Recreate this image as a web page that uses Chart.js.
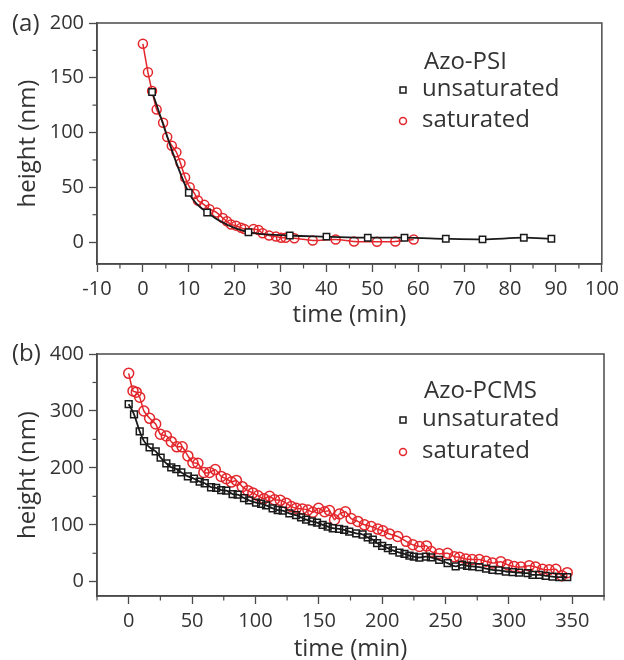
<!DOCTYPE html>
<html><head><meta charset="utf-8">
<script src="https://cdn.jsdelivr.net/npm/chart.js@4"></script>
<style>
html,body{margin:0;padding:0;background:#fff;}
#wrap{position:relative;width:624px;height:660px;overflow:hidden;}
canvas{position:absolute;left:0;}
#ca{top:0;} #cb{top:330px;}
</style></head><body>
<div id="wrap"><canvas id="ca" width="624" height="330"></canvas><canvas id="cb" width="624" height="330"></canvas></div>
<script>
const FONT = "'Open Sans', 'Noto Sans', sans-serif";
const TEXT = '#333333';
const AXIS = '#4a4a4a';
const BLACK = '#1a1a1a';
const RED = '#e3262b';

// ---------- Panel (a): Azo-PSI ----------
const aPanelLabel = '(a)';
const aLegendTitle = 'Azo-PSI';
const aUnsatTime = [2, 10, 14, 23, 32, 40, 49, 57, 66, 74, 83, 89];
const aUnsatHeight = [137, 45, 27, 9, 6, 5, 4, 4, 3, 2.5, 4, 3];
const aSatTime = [0, 1.1, 2, 3, 4.4, 5.3, 6.3, 7.3, 8.2, 9.2, 10.2, 11.3, 12, 13.4, 14.5, 16.1, 17.4, 18.3, 19.2, 20.3, 21.4, 22.1, 24.1, 25.2, 26.1, 27.5, 29, 30.1, 31.1, 33, 37, 42, 46, 51, 55, 59];
const aSatHeight = [181, 155, 138, 121, 109, 96, 88, 82, 72, 59, 50, 44, 38, 34, 30, 27, 22, 19, 16, 15, 13, 12, 12, 11, 8, 6, 5, 4, 4, 3.5, 1.5, 2.4, 0.6, 0.3, 0.6, 2.4];
const aXTicks = [-10, 0, 10, 20, 30, 40, 50, 60, 70, 80, 90, 100];
const aYTicks = [0, 50, 100, 150, 200];

// ---------- Panel (b): Azo-PCMS ----------
const bPanelLabel = '(b)';
const bLegendTitle = 'Azo-PCMS';
const bUnsatTime = [0, 4.2, 8.7, 12.1, 16.5, 21.3, 25.2, 29.7, 33.6, 37.6, 41.5, 46.7, 51.5, 56, 60, 65, 69, 73, 77, 82, 86, 91, 95, 100.5, 104.5, 108.4, 113.6, 117.6, 121.5, 126.8, 132, 136, 140, 144.6, 148.6, 153, 157, 161, 166, 170, 174, 179.5, 184.5, 188.6, 192.6, 196, 200, 204.5, 208.4, 213.6, 217.6, 221.5, 225, 229.3, 234.5, 238.5, 245, 251.6, 258, 263, 267, 271, 276.6, 282, 287, 292, 297.6, 303, 308, 314.7, 318.6, 324, 329, 334.4, 339.6, 346];
const bUnsatHeight = [312, 294, 264, 247, 236, 229, 218, 208, 201, 198, 192, 185, 181, 176, 173, 166, 165, 161, 160, 154, 153, 147, 143, 139, 137, 134, 129, 126, 125, 120, 117, 113, 109, 106, 104, 100, 97, 94, 93, 91, 88, 85, 83, 78, 74, 68, 63, 59, 55, 51, 49, 46, 44, 42.6, 44, 43, 38.6, 32.7, 27, 30, 28, 27, 25.7, 23, 21, 20, 18, 17, 16, 15, 12, 12, 10.5, 9, 8, 8];
const bSatTime = [0, 3.4, 6, 8.7, 12, 16.5, 21.3, 25, 29.7, 33.6, 38, 42.2, 46.7, 50.7, 54.6, 59.3, 63.8, 68.3, 73, 77, 81, 85, 89.6, 94, 98, 102, 106.7, 111.2, 115, 119.6, 124.3, 128.3, 132.2, 137, 141.4, 145.3, 149.8, 154.6, 158.4, 162.4, 166.3, 171, 175.5, 180.8, 186, 191.3, 196.5, 200.5, 205.8, 212.3, 218.9, 224.2, 229.4, 235, 238.6, 245, 251.6, 257, 261, 266, 271, 276.6, 282, 287, 293.6, 299, 304, 309.5, 316, 321, 326.5, 331.7, 337, 341.7, 346];
const bSatHeight = [366, 335, 333, 324, 300, 287, 277, 259, 256, 246, 237, 237, 221, 209, 208, 192, 192, 197, 185, 181, 175, 178, 167, 160, 156, 151, 146, 150, 144, 143, 138, 132, 129, 128, 126, 122, 129, 123, 125, 109, 119, 123, 111, 106, 100, 97, 92.5, 89.5, 84, 79.5, 71, 65, 62, 63, 53, 49, 50, 44, 43, 40, 39, 39, 36, 33, 35, 30, 27, 26, 28, 26, 22, 21, 22, 10.5, 16];
const bXTicks = [0, 50, 100, 150, 200, 250, 300, 350];
const bYTicks = [0, 100, 200, 300, 400];

const seriesLabels = ['unsaturated', 'saturated'];

function pts(t, h) { return t.map((v, i) => ({ x: v, y: h[i] })); }

// Frame, minor ticks, panel label and legend
const decoPlugin = {
  id: 'deco',
  afterDraw(chart) {
    const o = chart.options.plugins.deco;
    const { ctx, chartArea: a, scales } = chart;
    ctx.save();
    // frame
    ctx.strokeStyle = AXIS;
    ctx.lineWidth = 1.5;
    ctx.strokeRect(a.left, a.top, a.right - a.left, a.bottom - a.top);
    // minor ticks
    ctx.lineWidth = 1.2;
    const xs = scales.x, ys = scales.y;
    const xt = o.xTicks, yt = o.yTicks;
    const xStep = xt[1] - xt[0], yStep = yt[1] - yt[0];
    for (let v = xt[0] - xStep / 2; v <= xs.max + 1e-9; v += xStep) {
      if (v < xs.min - 1e-9) continue;
      const px = xs.getPixelForValue(v);
      ctx.beginPath(); ctx.moveTo(px, a.bottom); ctx.lineTo(px, a.bottom + 4.5); ctx.stroke();
    }
    for (let v = yt[0] - yStep / 2; v <= ys.max + 1e-9; v += yStep) {
      if (v < ys.min - 1e-9) continue;
      const py = ys.getPixelForValue(v);
      ctx.beginPath(); ctx.moveTo(a.left, py); ctx.lineTo(a.left - 4.5, py); ctx.stroke();
    }
    // panel label
    ctx.fillStyle = TEXT;
    ctx.font = '24px ' + FONT;
    ctx.textAlign = 'left';
    ctx.textBaseline = 'middle';
    ctx.fillText(o.panelLabel, 12, o.panelLabelY);
    // legend
    ctx.font = '24px ' + FONT;
    ctx.fillText(o.legendTitle, 424, o.legendY[0]);
    ctx.fillText(seriesLabels[0], 422, o.legendY[1]);
    ctx.fillText(seriesLabels[1], 422, o.legendY[2]);
    ctx.lineWidth = 1.5;
    ctx.strokeStyle = BLACK; ctx.fillStyle = '#ffffff';
    Chart.helpers.drawPoint(ctx, { pointStyle: 'rect', radius: 4.2, borderWidth: 1.5 }, 403, o.legendY[1] + 1);
    ctx.strokeStyle = RED; ctx.fillStyle = 'rgba(0,0,0,0)';
    Chart.helpers.drawPoint(ctx, { pointStyle: 'circle', radius: 3.5, borderWidth: 1.5 }, 403, o.legendY[2] + 1);
    ctx.restore();
  }
};

function makeChart(canvas, p) {
  return new Chart(canvas, {
    type: 'scatter',
    data: {
      datasets: [
        {
          label: seriesLabels[0], data: pts(p.unsatT, p.unsatH), showLine: true,
          borderColor: BLACK, borderWidth: 1.8, tension: 0.4, cubicInterpolationMode: 'monotone',
          pointStyle: 'rect', pointRadius: p.sqR, pointBorderWidth: 1.5,
          pointBorderColor: BLACK, pointBackgroundColor: p.sqFill
        },
        {
          label: seriesLabels[1], data: pts(p.satT, p.satH), showLine: true,
          borderColor: RED, borderWidth: 1.5, tension: 0.2,
          pointStyle: 'circle', pointRadius: p.ciR, pointBorderWidth: 1.5,
          pointBorderColor: RED, pointBackgroundColor: 'rgba(0,0,0,0)'
        }
      ]
    },
    options: {
      responsive: false, animation: false, devicePixelRatio: 1,
      layout: { padding: { top: p.padTop, right: 20, left: 0, bottom: 0 } },
      plugins: {
        legend: { display: false }, tooltip: { enabled: false },
        deco: {
          xTicks: p.xTicks, yTicks: p.yTicks, panelLabel: p.panelLabel, panelLabelY: p.panelLabelY,
          legendTitle: p.legendTitle, legendY: p.legendY
        }
      },
      scales: {
        x: {
          type: 'linear', min: p.xMin, max: p.xMax,
          afterBuildTicks: s => { s.ticks = p.xTicks.map(v => ({ value: v })); },
          afterFit: s => { s.height = p.xH; },
          grid: { drawOnChartArea: false, drawTicks: true, tickLength: 8, tickWidth: 1.3, tickColor: AXIS },
          border: { display: true, color: AXIS, width: 1.5 },
          ticks: { font: { family: FONT, size: 20 }, color: TEXT, padding: 5, maxRotation: 0, autoSkip: false },
          title: { display: true, text: 'time (min)', font: { family: FONT, size: 24 }, color: TEXT, padding: { top: 0, bottom: p.xTitlePad } }
        },
        y: {
          type: 'linear', min: p.yMin, max: p.yMax,
          afterBuildTicks: s => { s.ticks = p.yTicks.map(v => ({ value: v })); },
          afterFit: s => { s.width = 97; },
          grid: { drawOnChartArea: false, drawTicks: true, tickLength: 8, tickWidth: 1.3, tickColor: AXIS },
          border: { display: true, color: AXIS, width: 1.5 },
          ticks: { font: { family: FONT, size: 20 }, color: TEXT, padding: 5, autoSkip: false },
          title: { display: true, text: 'height (nm)', font: { family: FONT, size: 24 }, color: TEXT, padding: { top: 14, bottom: 0 } }
        }
      }
    },
    plugins: [decoPlugin]
  });
}

makeChart(document.getElementById('ca'), {
  unsatT: aUnsatTime, unsatH: aUnsatHeight, satT: aSatTime, satH: aSatHeight,
  xTicks: aXTicks, yTicks: aYTicks, xMin: -10, xMax: 100, yMin: -20, yMax: 200,
  padTop: 23, xH: 66, xTitlePad: 0, sqR: 4.5, ciR: 4.5, sqFill: '#ffffff',
  panelLabel: aPanelLabel, panelLabelY: 24, legendTitle: aLegendTitle, legendY: [62, 89, 120]
});
makeChart(document.getElementById('cb'), {
  unsatT: bUnsatTime, unsatH: bUnsatHeight, satT: bSatTime, satH: bSatHeight,
  xTicks: bXTicks, yTicks: bYTicks, xMin: -25, xMax: 375, yMin: -25, yMax: 400,
  padTop: 24, xH: 64, xTitlePad: -4, sqR: 4.8, ciR: 5, sqFill: 'rgba(255,255,255,0)',
  panelLabel: bPanelLabel, panelLabelY: 24, legendTitle: bLegendTitle, legendY: [61, 89, 121]
});
</script>
</body></html>
